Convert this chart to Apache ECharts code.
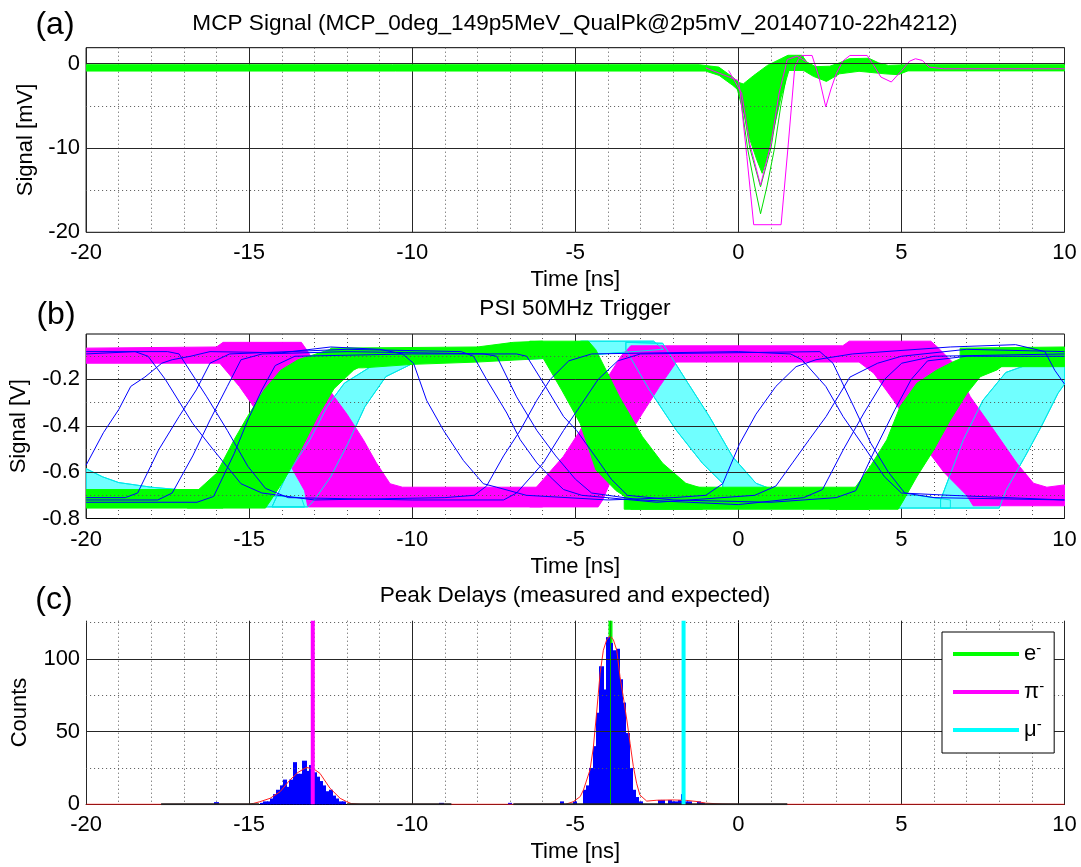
<!DOCTYPE html>
<html><head><meta charset="utf-8">
<script src="https://cdn.jsdelivr.net/npm/echarts@6/dist/echarts.min.js"></script>
<style>html,body{margin:0;padding:0;background:#fff}#c{width:1081px;height:867px}</style>
</head><body><div id="c"></div>
<script>
// ---------------- tick labels ----------------
const xTicks = [-20, -15, -10, -5, 0, 5, 10];
const yTicksA = [-20, -10, 0];
const yTicksB = [-0.8, -0.6, -0.4, -0.2];
const yTicksC = [0, 50, 100];
const yMinorA = [-15, -5];
const yMinorB = [-0.7, -0.5, -0.3, -0.1];
const yMinorC = [25, 75, 125];

// ---------------- (a) MCP signal [ns, mV] ----------------
const mcpGreenBand = [[-20,-0.12],[-1.2,-0.12],[-0.6,-0.4],[-0.17,-1.6],[0,-2.2],[0.15,-2.4],[0.47,-1.4],[0.89,-0.2],[1.31,0.6],[1.52,1.0],[1.95,1.0],[2.1,0.2],[2.37,-0.35],[2.8,-0.3],[3.1,0.1],[3.4,0.6],[4.0,0.65],[4.3,0.1],[4.6,-0.2],[5.1,-0.12],[10,-0.12],
  [10,-0.85],[5.2,-0.85],[4.9,-1.3],[4.5,-1.2],[3.7,-0.9],[3.1,-1.2],[2.7,-2.1],[2.3,-1.5],[2.0,-0.8],[1.55,-0.8],[1.31,-3.95],[1.1,-7.5],[0.89,-11.05],[0.73,-13.0],[0.57,-11.45],[0.36,-9.08],[0.15,-5.53],[0,-3.16],[-0.17,-2.57],[-0.59,-1.39],[-1.01,-0.87],[-20,-0.87]];
const mcpGreenDeep1 = [[0.1,-4],[0.35,-10],[0.68,-14.6],[1.0,-10],[1.25,-4]];
const mcpGreenDeep2 = [[-0.1,-2],[0.1,-5],[0.29,-10.2],[0.5,-14.5],[0.68,-17.8],[0.88,-14.5],[1.1,-10.2],[1.3,-5],[1.45,-2]];
const mcpMagenta1 = [[-1,-0.5],[0,-2.0],[0.05,-3.2],[0.26,-11],[0.47,-19.1],[1.31,-19.1],[1.52,-10],[1.73,-0.4],[1.85,0.6],[1.95,0.98],[2.26,0.98],[2.47,-1.58],[2.68,-5.13],[2.84,-3.0],[3.0,-1.19],[3.2,0.3],[3.42,0.98],[3.95,0.98],[4.15,-0.2],[4.37,-1.58],[4.69,-2.17],[5.01,-0.8],[5.25,0.3],[5.43,0.59],[5.64,0.39],[5.85,-0.4],[6.3,-0.6],[10,-0.6]];
const mcpMagenta2 = [[-0.3,-0.8],[0.1,-3.5],[0.35,-9.5],[0.68,-14.4],[1.0,-9.5],[1.25,-3.5],[1.5,0.5],[1.8,0.9],[2.1,0.2]];

// ---------------- (b) PSI trigger [ns, V] ----------------
const trigMagentaA = [[-20,-0.065],[-16.0,-0.06],[-15.8,-0.04],[-13.4,-0.04],[-13.2,-0.08],[-12.9,-0.15],[-12.52,-0.25],[-12.0,-0.35],[-11.5,-0.46],[-11.1,-0.56],[-10.68,-0.65],[-10.3,-0.665],[-6.0,-0.665],[-6.0,-0.75],[-13.2,-0.75],[-13.3,-0.68],[-13.7,-0.58],[-14.3,-0.45],[-14.9,-0.31],[-15.3,-0.23],[-15.9,-0.13],[-20,-0.13]];
const trigMagentaB = [[-6.4,-0.75],[-6.4,-0.72],[-6.18,-0.663],[-5.37,-0.533],[-4.85,-0.42],[-4.4,-0.3],[-4.0,-0.19],[-3.6,-0.1],[-3.3,-0.055],[3.2,-0.055],[3.4,-0.035],[5.9,-0.035],[6.1,-0.06],[6.6,-0.13],[7.11,-0.274],[7.83,-0.418],[8.54,-0.562],[9.05,-0.648],[9.46,-0.665],[10,-0.655],[10,-0.745],[7.2,-0.745],[7.0,-0.70],[6.3,-0.6],[5.5,-0.45],[4.76,-0.29],[4.15,-0.173],[3.7,-0.125],[-1.9,-0.125],[-2.42,-0.231],[-2.94,-0.346],[-3.4,-0.45],[-3.8,-0.6],[-4.16,-0.72],[-4.3,-0.75]];
const trigGreenLow1 = [[-20,-0.675],[-15.8,-0.675],[-15.8,-0.755],[-20,-0.755]];
const trigGreenRise1 = [[-16.9,-0.755],[-16.9,-0.72],[-16.0,-0.605],[-15.46,-0.46],[-15.05,-0.36],[-14.54,-0.245],[-14.03,-0.16],[-13.5,-0.115],[-12.5,-0.07],[-11.0,-0.1],[-11.8,-0.16],[-12.4,-0.24],[-12.9,-0.36],[-13.42,-0.505],[-13.93,-0.634],[-14.33,-0.72],[-14.5,-0.755]];
const trigGreenHigh1 = [[-12.5,-0.065],[-8,-0.06],[-6.9,-0.04],[-6.0,-0.035],[-6.0,-0.11],[-8,-0.125],[-10,-0.135],[-11.5,-0.15],[-12.5,-0.15]];
const trigGreenFall1 = [[-6.4,-0.035],[-4.6,-0.035],[-4.37,-0.072],[-3.65,-0.274],[-2.94,-0.447],[-2.32,-0.562],[-1.61,-0.648],[-1.1,-0.67],[-1.1,-0.76],[-3.3,-0.76],[-3.3,-0.72],[-3.75,-0.68],[-4.37,-0.59],[-4.85,-0.39],[-5.4,-0.25],[-5.98,-0.11],[-6.4,-0.06]];
const trigGreenLow2 = [[-3.5,-0.665],[4.0,-0.665],[4.0,-0.76],[-3.5,-0.76]];
const trigGreenRise2 = [[2.8,-0.76],[2.8,-0.72],[3.53,-0.677],[4.04,-0.576],[4.55,-0.461],[4.96,-0.317],[5.47,-0.217],[6.09,-0.159],[6.6,-0.123],[7.0,-0.1],[8.5,-0.1],[7.93,-0.159],[7.42,-0.188],[7.01,-0.26],[6.5,-0.375],[5.99,-0.504],[5.47,-0.62],[5.07,-0.72],[4.9,-0.76]];
const trigGreenHigh2 = [[6.8,-0.065],[10,-0.06],[10,-0.145],[6.8,-0.145]];
const trigCyanLow1 = [[-20,-0.585],[-19.5,-0.62],[-19,-0.645],[-18,-0.665],[-16,-0.69],[-14,-0.705],[-13.4,-0.71],[-13.3,-0.75],[-20,-0.75]];
const trigCyanRise1 = [[-14.3,-0.75],[-13.88,-0.62],[-13.14,-0.461],[-12.61,-0.317],[-12.08,-0.216],[-11.02,-0.123],[-10.0,-0.095],[-9.97,-0.13],[-10.81,-0.188],[-11.45,-0.317],[-11.97,-0.476],[-12.5,-0.62],[-13.0,-0.72],[-13.2,-0.75]];
const trigCyanHigh1 = [[-10.5,-0.09],[-6,-0.06],[-4.8,-0.035],[-2.6,-0.035],[-2.3,-0.07],[-6,-0.11],[-10.5,-0.13]];
const trigCyanFall1 = [[-3.45,-0.04],[-2.32,-0.044],[-1.61,-0.202],[-0.89,-0.36],[-0.18,-0.533],[0.54,-0.648],[1.36,-0.692],[1.36,-0.72],[-0.48,-0.72],[-0.48,-0.648],[-1.1,-0.562],[-1.91,-0.418],[-2.73,-0.245],[-3.45,-0.072]];
const trigCyanLow2 = [[-0.5,-0.67],[3,-0.69],[5.5,-0.7],[6.5,-0.72],[6.5,-0.755],[-0.5,-0.755]];
const trigCyanRise2 = [[6.2,-0.755],[6.2,-0.72],[6.9,-0.46],[7.5,-0.29],[8.2,-0.17],[9,-0.13],[10,-0.115],[10,-0.22],[9.8,-0.26],[9.3,-0.40],[8.8,-0.53],[8.2,-0.68],[8.0,-0.755]];
const trigBlue1 = [[-20,-0.57],[-19.47,-0.43],[-19.0,-0.33],[-18.63,-0.23],[-18.2,-0.19],[-17.68,-0.13],[-17.36,-0.115],[-16.8,-0.1],[-16.2,-0.08],[-14,-0.085],[-12.5,-0.06],[-11,-0.07],[-10.3,-0.09],[-9.96,-0.13],[-9.56,-0.29],[-9.04,-0.42],[-8.43,-0.55],[-7.82,-0.65],[-7.41,-0.665],[-6.5,-0.7],[-4,-0.72],[-2,-0.71],[-1.0,-0.70],[-0.48,-0.65],[0.03,-0.48],[0.54,-0.35],[1.15,-0.23],[1.77,-0.145],[2.38,-0.115],[3.5,-0.09],[6.5,-0.06],[8.5,-0.05],[9.4,-0.08],[9.7,-0.16],[10,-0.22]];
const trigBlue2 = [[-20,-0.71],[-18.8,-0.71],[-18.42,-0.69],[-17.78,-0.505],[-17.15,-0.36],[-16.62,-0.245],[-16.2,-0.13],[-15.6,-0.09],[-12,-0.07],[-8.5,-0.08],[-8.12,-0.1],[-7.72,-0.2],[-7.1,-0.345],[-6.69,-0.46],[-6.18,-0.56],[-5.77,-0.62],[-5.36,-0.675],[-4.8,-0.7],[-2.5,-0.73],[0.5,-0.7],[1.15,-0.66],[1.66,-0.56],[2.17,-0.46],[2.69,-0.36],[3.42,-0.19],[4.27,-0.13],[5,-0.1],[7,-0.07],[10,-0.08]];
const trigBlue3 = [[-20,-0.72],[-17.8,-0.72],[-17.36,-0.69],[-16.73,-0.53],[-16.2,-0.375],[-15.67,-0.23],[-15.25,-0.115],[-14.6,-0.09],[-12,-0.08],[-7.8,-0.09],[-7.41,-0.1],[-6.8,-0.275],[-6.18,-0.42],[-5.6,-0.53],[-5.0,-0.63],[-4.5,-0.69],[-3,-0.72],[0,-0.74],[2.0,-0.71],[2.58,-0.675],[3.21,-0.505],[3.85,-0.345],[4.48,-0.2],[5.01,-0.13],[6,-0.1],[10,-0.09]];
const trigBlue4 = [[-20,-0.73],[-16.6,-0.73],[-16.09,-0.705],[-15.46,-0.52],[-15.04,-0.375],[-14.61,-0.245],[-14.2,-0.14],[-13.6,-0.1],[-10,-0.09],[-6.8,-0.09],[-6.49,-0.1],[-5.98,-0.215],[-5.36,-0.36],[-4.96,-0.42],[-4.4,-0.53],[-3.9,-0.63],[-3.4,-0.7],[-2,-0.72],[1,-0.73],[3.0,-0.71],[3.6,-0.68],[4.2,-0.5],[4.8,-0.33],[5.3,-0.2],[5.8,-0.12],[7,-0.1],[10,-0.1]];
const trigBlue5 = [[-20,-0.09],[-18.5,-0.08],[-18.1,-0.1],[-17.57,-0.2],[-16.73,-0.39],[-16.09,-0.505],[-15.25,-0.65],[-14.61,-0.69],[-13,-0.72],[-9,-0.71],[-8.1,-0.7],[-7.72,-0.66],[-7.2,-0.53],[-6.69,-0.42],[-6.18,-0.29],[-5.77,-0.2],[-5.2,-0.12],[-4.5,-0.09],[0,-0.08],[1.6,-0.09],[1.95,-0.115],[2.68,-0.23],[3.21,-0.36],[3.85,-0.49],[4.48,-0.62],[5.0,-0.69],[6.5,-0.7],[10,-0.72]];
const trigBlue6 = [[-20,-0.08],[-17.5,-0.08],[-17.15,-0.09],[-16.3,-0.275],[-15.67,-0.42],[-15.04,-0.575],[-14.5,-0.67],[-13.8,-0.71],[-10,-0.72],[-7.2,-0.72],[-6.8,-0.69],[-5.98,-0.56],[-5.36,-0.42],[-4.85,-0.315],[-4.3,-0.2],[-3.7,-0.12],[-3,-0.09],[2.5,-0.08],[2.9,-0.13],[3.53,-0.315],[4.06,-0.475],[4.6,-0.6],[5.1,-0.69],[6,-0.71],[10,-0.72]];

// ---------------- (c) peak delays ----------------
const histBinCenters = [-16.0,-9.1,-7.0,-5.4,-5.0,
  -14.6,-14.5,-14.4,-14.3,-14.2,-14.1,-14.0,-13.9,-13.8,-13.7,-13.6,-13.5,-13.4,-13.3,-13.2,-13.1,-13.0,-12.9,-12.8,-12.7,-12.6,-12.5,-12.4,-12.3,-12.2,-12.1,
  -4.7,-4.6,-4.5,-4.4,-4.3,-4.2,-4.1,-4.0,-3.9,-3.8,-3.7,-3.6,-3.5,-3.4,-3.3,-3.2,-3.1,-3.0,
  -2.4,-2.3,-2.1,-2.0,-1.9,-1.8,-1.7,-1.6,-1.5,-1.2,-1.1];
const histCounts = [1.5,1,1,2,2,
  1,2,2,4,7,10,13,17,12,17,29,21,21,30,23,27,22,19,16,13,9,10,6,4,2,2,
  10,13,25,40,63,95,79,115,111,106,107,86,70,49,25,10,5,2,
  3,3,3,2,2,3,7,2,2,2,1];
const histBinWidth = 0.1;
const histZeroSegments = [[-17.7,-14.7],[-12.0,-8.8],[-6.9,1.5]];
const fitCurve = [[-20,0],[-15.0,0],[-14.87,0.6],[-14.67,1.8],[-14.36,4.1],[-14.05,8.7],[-13.75,16.7],[-13.5,22],[-13.24,25.4],[-13.0,24],[-12.83,21.3],[-12.52,11],[-12.21,4.1],[-12.01,1.8],[-11.87,0.5],[-11.6,0],[-5.3,0],[-5.06,1.8],[-4.85,5.3],[-4.75,9.9],[-4.55,23.6],[-4.45,38.5],[-4.35,62],[-4.24,90],[-4.14,106],[-4.04,113],[-3.93,116],[-3.83,113],[-3.73,106],[-3.63,88],[-3.53,74],[-3.42,58],[-3.32,42],[-3.22,26],[-3.12,14.5],[-3.02,6.4],[-2.81,2.2],[-2.5,2.8],[-2.0,3.0],[-1.6,2.7],[-1.3,2.0],[-1.0,0.8],[-0.5,0.2],[0,0],[10,0]];
const particleNames = ['e-', 'π-', 'μ-'];
const expectedDelays = [-3.92, -13.05, -1.68];

// ---------------- styling / layout ----------------
const FONT = 'Liberation Sans, Arial, Helvetica, sans-serif';
const FS = 22;
const particleColors = ['#00ff00', '#ff00ff', '#00ffff'];
const yRanges = [[-20, 1.9], [-0.8, -0.004], [0, 126.3]];
const yIntervals = [10, 0.2, 50];
const gridTops = [47.7, 334, 620.7];
const gridHeights = [184.6, 184.5, 183.6];
const yNames = ['Signal [mV]', 'Signal [V]', 'Counts'];
const yNameGaps = [49, 56, 55];
const yTickLists = [yTicksA, yTicksB, yTicksC];
const yMinorLists = [yMinorA, yMinorB, yMinorC];

function fmt(list) {
  return function (v) {
    const t = list.find(function (t) { return Math.abs(t - v) < 1e-6; });
    return t === undefined ? '' : String(t);
  };
}

const grids = [], xAxes = [], yAxes = [], series = [];
for (let i = 0; i < 3; i++) {
  grids.push({ left: 86.1, right: 16.5, top: gridTops[i], height: gridHeights[i],
    show: i < 2, borderColor: '#000', borderWidth: 1, backgroundColor: 'transparent' });
  xAxes.push({ type: 'value', gridIndex: i, min: -20, max: 10, interval: 5,
    axisLine: { show: i === 2, onZero: false, lineStyle: { color: '#000', width: 1 } },
    axisTick: { show: false },
    axisLabel: { fontSize: FS, fontFamily: FONT, color: '#000', margin: 10, formatter: fmt(xTicks) },
    splitLine: { show: true, lineStyle: { color: '#262626', width: 1 } },
    minorTick: { show: false, splitNumber: 5 },
    minorSplitLine: { show: true, lineStyle: { color: '#555', width: 1, type: [1, 3] } },
    name: 'Time [ns]', nameLocation: 'middle', nameGap: 37,
    nameTextStyle: { fontSize: FS, fontFamily: FONT, color: '#000' } });
  yAxes.push({ type: 'value', gridIndex: i, min: yRanges[i][0], max: yRanges[i][1], interval: yIntervals[i],
    axisLine: { show: i === 2, lineStyle: { color: '#000', width: 1 } },
    axisTick: { show: false },
    axisLabel: { fontSize: FS, fontFamily: FONT, color: '#000', margin: 6, formatter: fmt(yTickLists[i]) },
    splitLine: { show: false },
    name: yNames[i], nameLocation: 'middle', nameGap: yNameGaps[i],
    nameTextStyle: { fontSize: FS, fontFamily: FONT, color: '#000' } });
  const majors = yTickLists[i].filter(function (v) { return v > yRanges[i][0]; });
  series.push({ type: 'line', xAxisIndex: i, yAxisIndex: i, data: [], z: 1, silent: true,
    markLine: { symbol: ['none', 'none'], silent: true, animation: false, label: { show: false },
      data: majors.map(function (v) { return { yAxis: v, lineStyle: { color: '#262626', width: 1, type: 'solid' } }; })
        .concat(yMinorLists[i].map(function (v) { return { yAxis: v, lineStyle: { color: '#555', width: 1, type: [1, 3] } }; })) } });
}

function poly(points, fill, stroke, gi, z) {
  return { type: 'custom', coordinateSystem: 'cartesian2d', xAxisIndex: gi, yAxisIndex: gi, z: z,
    silent: true, clip: true, data: points, encode: { x: 0, y: 1 },
    renderItem: function (params, api) {
      if (params.dataIndex !== 0) return null;
      return { type: 'polygon', shape: { points: points.map(function (p) { return api.coord(p); }) },
        style: { fill: fill, stroke: stroke, lineWidth: 1 } };
    } };
}
function trace(points, color, gi, z, width) {
  return { type: 'line', xAxisIndex: gi, yAxisIndex: gi, z: z, data: points, showSymbol: false,
    silent: true, lineStyle: { color: color, width: width || 1 }, itemStyle: { color: color } };
}

// (a)
series.push(poly(mcpGreenBand, '#00ff00', '#00ff00', 0, 2));
series.push(trace(mcpGreenDeep1, '#00e000', 0, 3));
series.push(trace(mcpGreenDeep2, '#00e000', 0, 3));
series.push(trace(mcpMagenta1, '#ff00ff', 0, 4));
series.push(trace(mcpMagenta2, '#ff00ff', 0, 4));

// (b)  cyan fill lowest, magenta, cyan outlines, green, blue traces on top
const cyanPolys = [trigCyanLow1, trigCyanRise1, trigCyanHigh1, trigCyanFall1, trigCyanLow2, trigCyanRise2];
cyanPolys.forEach(function (p) { series.push(poly(p, '#70ffff', '#00e8e8', 1, 2)); });
[trigMagentaA, trigMagentaB].forEach(function (p) { series.push(poly(p, '#ff00ff', '#ff00ff', 1, 3)); });
cyanPolys.forEach(function (p) { series.push(poly(p, 'none', '#00e8e8', 1, 3.5)); });
[trigGreenLow1, trigGreenRise1, trigGreenHigh1, trigGreenFall1, trigGreenLow2, trigGreenRise2, trigGreenHigh2].forEach(function (p) {
  series.push(poly(p, '#00ff00', '#00ff00', 1, 4)); });
[trigBlue1, trigBlue2, trigBlue3, trigBlue4, trigBlue5, trigBlue6].forEach(function (p) {
  series.push(trace(p, '#0000ff', 1, 5)); });

// (c)
const yTopC = yRanges[2][1];
series.push({ name: particleNames[0], type: 'line', xAxisIndex: 2, yAxisIndex: 2, z: 2, showSymbol: false, silent: true,
  data: [[expectedDelays[0], 0], [expectedDelays[0], yTopC]],
  lineStyle: { color: particleColors[0], width: 4 }, itemStyle: { color: particleColors[0] } });
series.push({ type: 'custom', coordinateSystem: 'cartesian2d', xAxisIndex: 2, yAxisIndex: 2, z: 3, silent: true,
  data: histBinCenters.map(function (c, k) { return [c, histCounts[k]]; }), encode: { x: 0, y: 1 },
  renderItem: function (params, api) {
    const c = api.value(0), n = api.value(1);
    const p0 = api.coord([c - histBinWidth / 2, n]);
    const p1 = api.coord([c + histBinWidth / 2, 0]);
    const x0 = Math.floor(p0[0]), x1 = Math.ceil(p1[0]);
    return { type: 'rect', shape: { x: x0, y: p0[1], width: x1 - x0, height: p1[1] - p0[1] },
      style: { fill: '#0000ff' } };
  } });
series.push(trace(fitCurve, '#ff2020', 2, 4, 1));
histZeroSegments.forEach(function (s) {
  series.push(trace([[s[0], 0], [s[1], 0]], '#222', 2, 5, 2)); });
series.push(trace([[expectedDelays[0], 0], [expectedDelays[0], yTopC]], '#00b000', 2, 6, 1));
for (let k = 1; k < 3; k++) {
  series.push({ name: particleNames[k], type: 'line', xAxisIndex: 2, yAxisIndex: 2, z: 6, showSymbol: false, silent: true,
    data: [[expectedDelays[k], 0], [expectedDelays[k], yTopC]],
    lineStyle: { color: particleColors[k], width: 4 }, itemStyle: { color: particleColors[k] } });
}

function txt(x, y, s, size) {
  return { type: 'text', x: x, y: y, silent: true,
    style: { text: s, fontSize: size, fontFamily: FONT, fill: '#000', align: 'center', verticalAlign: 'middle' } };
}

const chart = echarts.init(document.getElementById('c'), null, { renderer: 'canvas' });
chart.setOption({
  animation: false,
  backgroundColor: '#fff',
  grid: grids, xAxis: xAxes, yAxis: yAxes, series: series,
  legend: { data: particleNames, orient: 'vertical', left: 942, top: 632, padding: [9, 10, 12, 11],
    itemGap: 14, itemWidth: 66, itemHeight: 4, icon: 'rect', selectedMode: false,
    backgroundColor: '#fff', borderColor: '#000', borderWidth: 1, borderRadius: 0, z: 10,
    formatter: function (n) { return '{b|' + n.charAt(0) + '}{s|-}'; },
    textStyle: { color: '#000', fontFamily: FONT, fontSize: FS,
      rich: { b: { fontSize: FS, fontFamily: FONT, lineHeight: 26 }, s: { fontSize: 15, fontFamily: FONT, verticalAlign: 'top', lineHeight: 14 } } } },
  graphic: [
    txt(55, 25, '(a)', 32), txt(575, 23.3, 'MCP Signal (MCP_0deg_149p5MeV_QualPk@2p5mV_20140710-22h4212)', 22.6),
    txt(56, 315, '(b)', 32), txt(575, 308.5, 'PSI 50MHz Trigger', 22.6),
    txt(54, 600, '(c)', 32), txt(575, 596, 'Peak Delays (measured and expected)', 22.6)
  ]
});
</script></body></html>
